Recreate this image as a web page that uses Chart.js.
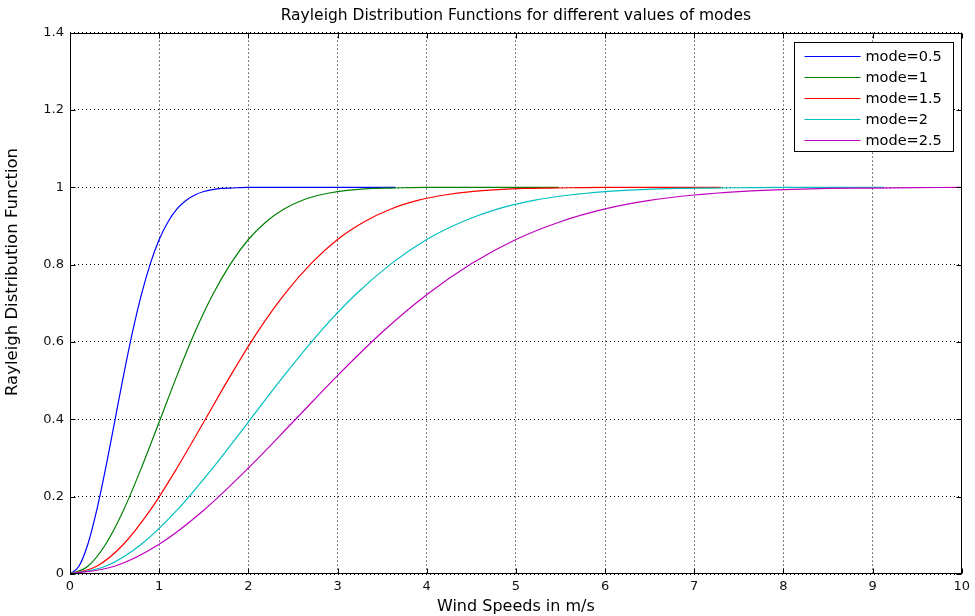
<!DOCTYPE html>
<html>
<head>
<meta charset="utf-8">
<script src="https://cdn.jsdelivr.net/npm/chart.js@4.4.1/dist/chart.umd.min.js"></script>
<style>
  body { margin: 0; background: #fff; }
  canvas { display: block; }
</style>
</head>
<body>
<canvas id="myChart" width="975" height="616"></canvas>
<script>
// values (Rayleigh CDF curves)
const seriesLabels = ["mode=0.5", "mode=1", "mode=1.5", "mode=2", "mode=2.5"];

const xMode05 = [0, 0.1, 0.2, 0.3, 0.4, 0.5, 0.6, 0.7, 0.8, 0.9, 1.0, 1.1, 1.2, 1.3, 1.4, 1.5, 1.6, 1.7, 1.8, 2.0, 2.5, 3.0, 3.65];
const yMode05 = [0, 0.02, 0.077, 0.165, 0.274, 0.393, 0.513, 0.625, 0.722, 0.802, 0.865, 0.911, 0.944, 0.966, 0.98, 0.989, 0.994, 0.997, 0.998, 1, 1, 1, 1];

const xMode1 = [0, 0.2, 0.4, 0.6, 0.8, 1.0, 1.2, 1.4, 1.6, 1.8, 2.0, 2.2, 2.4, 2.6, 2.8, 3.0, 3.2, 3.4, 3.6, 4.0, 4.5, 5.0, 5.48];
const yMode1 = [0, 0.02, 0.077, 0.165, 0.274, 0.393, 0.513, 0.625, 0.722, 0.802, 0.865, 0.911, 0.944, 0.966, 0.98, 0.989, 0.994, 0.997, 0.998, 1, 1, 1, 1];

const xMode15 = [0, 0.3, 0.6, 0.9, 1.2, 1.5, 1.8, 2.1, 2.4, 2.7, 3.0, 3.3, 3.6, 3.9, 4.2, 4.5, 4.8, 5.1, 5.4, 6.0, 6.5, 7.0, 7.3];
const yMode15 = [0, 0.02, 0.077, 0.165, 0.274, 0.393, 0.513, 0.625, 0.722, 0.802, 0.865, 0.911, 0.944, 0.966, 0.98, 0.989, 0.994, 0.997, 0.998, 1, 1, 1, 1];

const xMode2 = [0, 0.4, 0.8, 1.2, 1.6, 2.0, 2.4, 2.8, 3.2, 3.6, 4.0, 4.4, 4.8, 5.2, 5.6, 6.0, 6.4, 6.8, 7.2, 8.0, 8.4, 8.8, 9.13];
const yMode2 = [0, 0.02, 0.077, 0.165, 0.274, 0.393, 0.513, 0.625, 0.722, 0.802, 0.865, 0.911, 0.944, 0.966, 0.98, 0.989, 0.994, 0.997, 0.998, 1, 1, 1, 1];

const xMode25 = [0, 0.5, 1.0, 1.5, 2.0, 2.5, 3.0, 3.5, 4.0, 4.5, 5.0, 5.5, 6.0, 6.5, 7.0, 7.5, 8.0, 8.5, 9.0, 9.5, 10];
const yMode25 = [0, 0.02, 0.077, 0.165, 0.274, 0.393, 0.513, 0.625, 0.722, 0.802, 0.865, 0.911, 0.944, 0.966, 0.98, 0.989, 0.994, 0.997, 0.998, 0.999, 1];

const xTicks = [0, 1, 2, 3, 4, 5, 6, 7, 8, 9, 10];
const yTicks = [0, 0.2, 0.4, 0.6, 0.8, 1, 1.2, 1.4];

const lineColors = ["#0000ff", "#008000", "#ff0000", "#00bfbf", "#bf00bf"];
const FONT = "'DejaVu Sans', sans-serif";

function pts(xs, ys) {
  return xs.map((x, i) => ({ x: x, y: ys[i] }));
}

const allSeries = [
  pts(xMode05, yMode05),
  pts(xMode1, yMode1),
  pts(xMode15, yMode15),
  pts(xMode2, yMode2),
  pts(xMode25, yMode25),
];

const data = {
  datasets: allSeries.map((d, i) => ({
    label: seriesLabels[i],
    data: d,
    borderColor: lineColors[i],
    backgroundColor: lineColors[i],
    borderWidth: 1.2,
    pointRadius: 0,
    fill: false,
    cubicInterpolationMode: "monotone",
    order: 5 - i, // later series on top, like matlab
  })),
};

// box, inward ticks, y label and legend (matlab look)
const matlabBox = {
  id: "matlabBox",
  afterDraw(chart) {
    const ctx = chart.ctx;
    const ca = chart.chartArea;
    const xs = chart.scales.x;
    const ys = chart.scales.y;
    ctx.save();
    ctx.strokeStyle = "#000";
    ctx.lineWidth = 1;
    ctx.setLineDash([]);
    const L = Math.round(ca.left) + 0.5, R = Math.round(ca.right) - 0.5;
    const T = Math.round(ca.top) + 0.5, B = Math.round(ca.bottom) - 0.5;
    ctx.strokeRect(L, T, R - L, B - T);
    ctx.beginPath();
    xTicks.forEach(v => {
      const px = Math.round(xs.getPixelForValue(v)) + 0.5;
      ctx.moveTo(px, B); ctx.lineTo(px, B - 5);
      ctx.moveTo(px, T); ctx.lineTo(px, T + 5);
    });
    yTicks.forEach(v => {
      const py = Math.round(ys.getPixelForValue(v)) + 0.5;
      ctx.moveTo(L, py); ctx.lineTo(L + 5, py);
      ctx.moveTo(R, py); ctx.lineTo(R - 5, py);
    });
    ctx.stroke();

    // y axis title
    ctx.save();
    ctx.translate(13, 272);
    ctx.rotate(-Math.PI / 2);
    ctx.font = "16.5px " + FONT;
    ctx.fillStyle = "#000";
    ctx.textAlign = "center";
    ctx.textBaseline = "middle";
    ctx.fillText("Rayleigh Distribution Function", 0, 0);
    ctx.restore();

    // legend box
    const bx = Math.round(ca.right) - 167.5, by = Math.round(ca.top) + 9.5;
    const bw = 159, bh = 109;
    ctx.fillStyle = "#fff";
    ctx.fillRect(bx, by, bw, bh);
    ctx.strokeStyle = "#000";
    ctx.strokeRect(bx, by, bw, bh);
    ctx.font = "14.5px " + FONT;
    ctx.textAlign = "left";
    ctx.textBaseline = "middle";
    chart.data.datasets.forEach((ds, i) => {
      const yy = Math.round(by + 13 + i * 21) + 0.5;
      ctx.strokeStyle = ds.borderColor;
      ctx.beginPath();
      ctx.moveTo(bx + 10, yy);
      ctx.lineTo(bx + 66, yy);
      ctx.stroke();
      ctx.fillStyle = "#000";
      ctx.fillText(ds.label, bx + 71, yy + 1);
    });
    ctx.restore();
  },
};

const config = {
  type: "line",
  data: data,
  options: {
    responsive: false,
    animation: false,
    devicePixelRatio: 1,
    layout: { padding: { left: 0, right: 13, top: 0, bottom: 0 } },
    plugins: {
      legend: { display: false },
      tooltip: { enabled: false },
      title: {
        display: true,
        fullSize: false,
        text: "Rayleigh Distribution Functions for different values of modes",
        color: "#000",
        font: { family: FONT, size: 15.5, weight: "normal" },
        padding: { top: 7, bottom: 7 },
      },
    },
    scales: {
      x: {
        type: "linear",
        min: 0,
        max: 10,
        afterFit(scale) { scale.height = 42; },
        afterBuildTicks(scale) { scale.ticks = xTicks.map(v => ({ value: v })); },
        title: {
          display: true,
          text: "Wind Speeds in m/s",
          color: "#000",
          font: { family: FONT, size: 16 },
          padding: { top: 0, bottom: 0 },
        },
        ticks: {
          color: "#111",
          padding: 5,
          maxRotation: 0,
          font: { family: FONT, size: 13 },
        },
        grid: { color: "#000", lineWidth: 1, drawTicks: false },
        border: { display: false, dash: [1, 3] },
      },
      y: {
        type: "linear",
        min: 0,
        max: 1.4,
        afterFit(scale) { scale.width = 70; },
        afterBuildTicks(scale) { scale.ticks = yTicks.map(v => ({ value: v })); },
        ticks: {
          color: "#111",
          padding: 6,
          font: { family: FONT, size: 13 },
          callback: v => String(Math.round(v * 10) / 10),
        },
        grid: { color: "#000", lineWidth: 1, drawTicks: false },
        border: { display: false, dash: [1, 3] },
      },
    },
  },
  plugins: [matlabBox],
};

const myChart = new Chart(document.getElementById("myChart"), config);
</script>
</body>
</html>
